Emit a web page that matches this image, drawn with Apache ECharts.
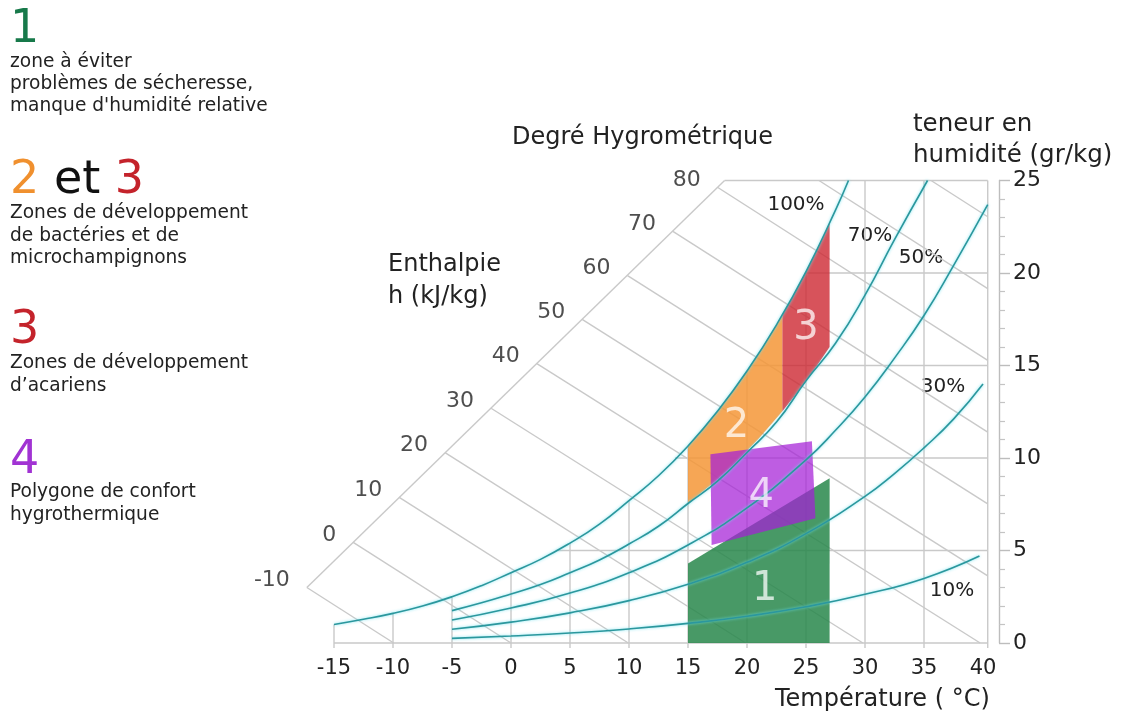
<!DOCTYPE html>
<html><head><meta charset="utf-8">
<script src="https://cdn.jsdelivr.net/npm/echarts@6/dist/echarts.min.js"></script>
<style>html,body{margin:0;padding:0;background:#fff}#c{width:1125px;height:718px}</style>
</head><body><div id="c"></div>
<script>
// ---------- data ----------
// relative-humidity curves: temperature (°C) and moisture content (g/kg)
const rh100T = [-15,-12.5,-10,-7.5,-5,-2.5,0,2.5,5,7.5,10,12.5,15,17.5,20,22.5,25,27.5,28.6];
const rh100W = [1.0,1.28,1.6,2.0,2.5,3.1,3.8,4.52,5.4,6.43,7.7,9.04,10.65,12.53,14.7,17.2,20.08,23.4,25.0];
const rh70T = [-5,-2.5,0,2.5,5,7.5,10,12.5,15,17.5,20,22.5,25,27.5,30,32.5,35.3];
const rh70W = [1.75,2.17,2.65,3.16,3.8,4.49,5.35,6.31,7.54,8.75,10.3,11.94,14.17,16.2,18.8,21.8,25.0];
const rh50T = [-5,0,5,10,15,20,25,27.5,30,32.5,35,37.5,40.4];
const rh50W = [1.24,1.89,2.7,3.8,5.3,7.3,9.9,11.5,13.3,15.4,17.7,20.4,23.7];
const rh30T = [-5,0,5,10,15,20,25,30,32.5,35,37.5,40];
const rh30W = [0.74,1.13,1.63,2.29,3.18,4.36,5.91,7.93,9.16,10.55,12.1,14.0];
const rh10T = [-5,0,5,10,15,20,25,30,35,39.7];
const rh10W = [0.25,0.38,0.54,0.76,1.06,1.45,1.96,2.63,3.49,4.7];

// vertical temperature grid lines (bottom to saturation curve)
const gridT = [-15,-10,-5,0,5,10,15,20,25,30,35];
const gridTopW = [1.0,1.6,2.5,3.8,5.4,7.7,10.65,14.7,20.08,25,25];
// horizontal moisture grid lines (saturation curve to right edge)
const gridW = [5,10,15,20];
const gridStartT = [3.8,13.9,20.3,24.9];
const frameRightT = 40.4, frameLeftT = -15, frameTopW = 25, tickBelowW = -0.27;

// enthalpy scale (kJ/kg): points on the diagonal scale and line ends
const enthalpyValues = [-10,0,10,20,30,40,50,60,70,80];
const enthScaleT = [-17.3,-13.37,-9.47,-5.59,-1.69,2.19,6.03,9.88,13.72,17.53];
const enthScaleW = [3.0,5.44,7.87,10.29,12.69,15.10,17.49,19.86,22.25,24.62];
const enthEndT = [-9.94,0,9.94,19.88,29.82,39.76,40.4,40.4,40.4,40.4];
const enthEndW = [0,0,0,0,0,0,3.63,7.52,11.40,15.28];
const scaleTopT = 18.1;
// extra enthalpy lines (90, 100) from the top edge
const enthExtraStartT = [26.1,35.6];
const enthExtraEndW = [19.16,23.04];

// zones
const zone1T = [15,15,27,27];
const zone1W = [0,4.3,8.9,0];
const zone2T = [15,17,19,21,23,23,21,19,17,15];
const zone2W = [10.65,12.13,13.79,15.65,17.74,12.53,11.06,9.75,8.58,7.54];
const zone3T = [23,24,25,26,27,27,26,25,24,23];
const zone3W = [17.74,18.87,20.08,21.36,22.70,16.0,15.06,14.17,13.33,12.53];
const zone4T = [16.9,25.5,25.8,17.0];
const zone4W = [10.2,10.9,6.75,5.3];
const zoneLabels = ['1','2','3','4'];
const zoneLabelT = [21.5,19.1,25.0,21.2];
const zoneLabelW = [2.9,11.7,17.0,7.9];

// ---------- chart ----------
const FONT = 'DejaVu Sans';
const TXT = '#222';
const GRID = '#c9c9c9';
const chart = echarts.init(document.getElementById('c'));

const pairs = (T, W) => T.map((t, i) => [t, W[i]]);

const segs = [];
gridT.forEach((t, i) => segs.push([t, tickBelowW, t, gridTopW[i]]));
gridW.forEach((w, i) => segs.push([gridStartT[i], w, frameRightT, w]));
segs.push([frameLeftT, 0, frameRightT, 0]);
segs.push([frameRightT, tickBelowW, frameRightT, frameTopW]);
segs.push([scaleTopT, frameTopW, frameRightT, frameTopW]);
segs.push([enthScaleT[0], enthScaleW[0], scaleTopT, frameTopW]);
enthalpyValues.forEach((h, i) => segs.push([enthScaleT[i], enthScaleW[i], enthEndT[i], enthEndW[i]]));
enthExtraStartT.forEach((t, i) => segs.push([t, frameTopW, frameRightT, enthExtraEndW[i]]));

function segSeries(data, z) {
  return {
    type: 'custom', z, silent: true, clip: false, data,
    encode: { x: [0, 2], y: [1, 3] },
    renderItem(params, api) {
      const a = api.coord([api.value(0), api.value(1)]);
      const b = api.coord([api.value(2), api.value(3)]);
      return { type: 'line', shape: { x1: a[0], y1: a[1], x2: b[0], y2: b[1] },
        style: { stroke: GRID, lineWidth: 1.4 } };
    }
  };
}
function polySeries(T, W, fill, z) {
  const data = pairs(T, W);
  return {
    type: 'custom', z, silent: true, clip: false, data,
    renderItem(params, api) {
      if (params.dataIndex !== 0) return null;
      const pts = data.map(d => api.coord(d));
      return { type: 'polygon', shape: { points: pts }, style: { fill } };
    }
  };
}
function rhSeries(T, W) {
  return {
    type: 'line', data: pairs(T, W), smooth: 0.5,
    showSymbol: false, silent: true, clip: false, z: 6,
    lineStyle: { color: '#2b979d', width: 1.6, shadowColor: 'rgba(110,225,240,0.9)', shadowBlur: 3 }
  };
}

function txt(x, y, text, size, fill, extra) {
  return Object.assign({ type: 'text', x, y, silent: true,
    style: Object.assign({ text, fontSize: size, fontFamily: FONT, fill: fill || TXT,
      verticalAlign: 'middle', align: 'left' }, extra || {}) });
}

const LS = 18.6;
const graphics = [
  txt(10, 30, '1', 46, '#17794a'),
  txt(10, 62, 'zone à éviter', LS),
  txt(10, 84, 'problèmes de sécheresse,', LS),
  txt(10, 106, 'manque d\'humidité relative', LS),
  { type: 'text', x: 10, y: 181, silent: true, style: {
      text: '{o|2 }{k|et }{r|3}', fontFamily: FONT, verticalAlign: 'middle',
      rich: { o: { fontSize: 46, fill: '#f0902e', fontFamily: FONT },
              k: { fontSize: 46, fill: '#111', fontFamily: FONT },
              r: { fontSize: 46, fill: '#c4232b', fontFamily: FONT } } } },
  txt(10, 213, 'Zones de développement', LS),
  txt(10, 236, 'de bactéries et de', LS),
  txt(10, 258, 'microchampignons', LS),
  txt(10, 331, '3', 46, '#c4232b'),
  txt(10, 363, 'Zones de développement', LS),
  txt(10, 386, 'd’acariens', LS),
  txt(10, 461, '4', 46, '#a133d3'),
  txt(10, 492, 'Polygone de confort', LS),
  txt(10, 515, 'hygrothermique', LS),
  txt(512, 138, 'Degré Hygrométrique', 24),
  txt(388, 265, 'Enthalpie', 24),
  txt(388, 297, 'h (kJ/kg)', 24),
  txt(913, 125, 'teneur en', 24.5),
  txt(913, 156, 'humidité (gr/kg)', 24.5),
  txt(775, 700, 'Température ( °C)', 24),
  txt(796, 205, '100%', 20, TXT, { align: 'center' }),
  txt(870, 236, '70%', 20, TXT, { align: 'center' }),
  txt(921, 258, '50%', 20, TXT, { align: 'center' }),
  txt(943, 387, '30%', 20, TXT, { align: 'center' }),
  txt(952, 591, '10%', 20, TXT, { align: 'center' })
];

chart.setOption({
  animation: false,
  backgroundColor: '#fff',
  grid: { left: 275, top: 180.5, width: 767, height: 462.5 },
  xAxis: {
    type: 'value', min: -20, max: 45, interval: 5,
    axisLine: { show: false }, axisTick: { show: false }, splitLine: { show: false },
    axisLabel: { fontSize: 21, color: TXT, fontFamily: FONT, margin: 15,
      formatter: v => (v < -15 || v > 40) ? '' : String(v) }
  },
  yAxis: {
    type: 'value', position: 'right', offset: -43, min: 0, max: 25, interval: 5,
    axisLine: { show: true, onZero: false, lineStyle: { color: '#bdbdbd', width: 1.4 } },
    axisTick: { show: true, length: 11, lineStyle: { color: '#bdbdbd', width: 1.4 } },
    minorTick: { show: true, splitNumber: 5, length: 6, lineStyle: { color: '#c4c4c4', width: 1.2 } },
    splitLine: { show: false },
    axisLabel: { fontSize: 22, color: TXT, fontFamily: FONT, margin: 14 }
  },
  graphic: graphics,
  series: [
    segSeries(segs, 1),
    polySeries(zone2T, zone2W, 'rgba(245,150,55,0.85)', 2),
    polySeries(zone3T, zone3W, 'rgba(205,40,50,0.8)', 2),
    polySeries(zone1T, zone1W, 'rgba(40,135,75,0.85)', 3),
    polySeries(zone4T, zone4W, 'rgba(165,30,215,0.72)', 4),
    rhSeries(rh100T, rh100W),
    rhSeries(rh70T, rh70W),
    rhSeries(rh50T, rh50W),
    rhSeries(rh30T, rh30W),
    rhSeries(rh10T, rh10W),
    {
      type: 'scatter', z: 7, silent: true, symbolSize: 0,
      data: enthalpyValues.map((h, i) => [enthScaleT[i], enthScaleW[i], h]),
      label: { show: true, position: 'left', distance: 17, offset: [0, -7],
        formatter: p => String(p.value[2]), fontSize: 22, color: TXT, fontFamily: FONT }
    },
    {
      type: 'scatter', z: 8, silent: true, symbolSize: 0,
      data: zoneLabels.map((s, i) => ({ value: [zoneLabelT[i], zoneLabelW[i]], name: s })),
      label: { show: true, position: 'inside', formatter: p => p.name,
        fontSize: 40, color: 'rgba(255,255,255,0.92)', fontFamily: FONT }
    }
  ]
});
</script></body></html>
